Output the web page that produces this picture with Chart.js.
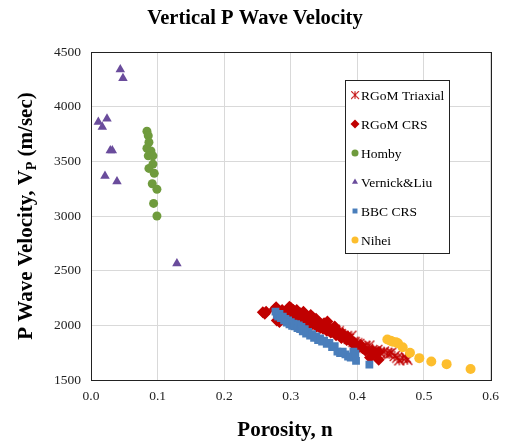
<!DOCTYPE html>
<html>
<head>
<meta charset="utf-8">
<script src="https://cdn.jsdelivr.net/npm/chart.js@4.4.0/dist/chart.umd.min.js"></script>
<style>
    html, body { margin: 0; padding: 0; background: #fff; }
</style>
</head>
<body>
<canvas id="chart" width="507" height="444"></canvas>
<script>
// ---- data (porosity n, velocity Vp in m/sec) ----
const triaxialPorosity = [0.333, 0.340, 0.346, 0.350, 0.352, 0.356, 0.360, 0.363, 0.366, 0.368, 0.372, 0.375, 0.379, 0.383, 0.387, 0.391, 0.394, 0.396, 0.400, 0.403, 0.406, 0.408, 0.412, 0.416, 0.418, 0.422, 0.428, 0.430, 0.434, 0.440, 0.445, 0.448, 0.451, 0.456, 0.460, 0.463, 0.468, 0.473, 0.475];
const triaxialVelocity = [2000, 2015, 2000, 1990, 2000, 1965, 1980, 1950, 1960, 1935, 1945, 1920, 1905, 1890, 1875, 1905, 1850, 1845, 1835, 1830, 1790, 1800, 1810, 1785, 1815, 1770, 1760, 1775, 1750, 1760, 1745, 1740, 1750, 1720, 1705, 1680, 1700, 1705, 1685];

const crsPorosity = [0.258, 0.261, 0.263, 0.276, 0.278, 0.279, 0.281, 0.283, 0.284, 0.287, 0.289, 0.291, 0.293, 0.296, 0.298, 0.300, 0.301, 0.303, 0.304, 0.306, 0.308, 0.310, 0.312, 0.314, 0.316, 0.318, 0.320, 0.322, 0.324, 0.327, 0.329, 0.331, 0.334, 0.336, 0.339, 0.342, 0.345, 0.348, 0.351, 0.354, 0.357, 0.360, 0.364, 0.368, 0.372, 0.376, 0.380, 0.384, 0.388, 0.392, 0.396, 0.402, 0.408, 0.412, 0.419, 0.423, 0.428, 0.432, 0.432,
    0.300, 0.305, 0.309, 0.315, 0.319, 0.325, 0.330, 0.333, 0.338, 0.341, 0.344, 0.350, 0.353, 0.355, 0.362, 0.366, 0.370, 0.374, 0.378, 0.382, 0.386, 0.390, 0.395, 0.399, 0.405];
const crsVelocity = [2120, 2105, 2125, 2150, 2165, 2045, 2130, 2030, 2110, 2140, 2095, 2120, 2080, 2150, 2170, 2160, 2130, 2105, 2140, 2085, 2120, 2095, 2060, 2110, 2080, 2045, 2090, 2060, 2030, 2070, 2040, 2010, 2050, 2020, 1990, 2030, 2000, 1970, 1985, 1950, 1970, 1935, 1950, 1910, 1925, 1885, 1900, 1865, 1870, 1840, 1820, 1800, 1790, 1770, 1705, 1765, 1740, 1755, 1685,
    2100, 2065, 2140, 2035, 2125, 2010, 2095, 2075, 2060, 2000, 1975, 2020, 1995, 2035, 1965, 1990, 1950, 1905, 1925, 1890, 1895, 1860, 1845, 1815, 1820];

const hornbyPorosity = [0.084, 0.086, 0.087, 0.084, 0.090, 0.086, 0.093, 0.093, 0.087, 0.095, 0.092, 0.099, 0.094, 0.099];
const hornbyVelocity = [3775, 3735, 3675, 3620, 3595, 3550, 3550, 3475, 3435, 3390, 3295, 3245, 3115, 3000];

const vernickPorosity = [0.044, 0.048, 0.011, 0.024, 0.017, 0.029, 0.032, 0.021, 0.039, 0.129];
const vernickVelocity = [4340, 4260, 3860, 3890, 3815, 3600, 3600, 3365, 3315, 2565];

const bbcPorosity = [0.277, 0.279, 0.281, 0.283, 0.285, 0.288, 0.290, 0.292, 0.294, 0.296, 0.298, 0.300, 0.302, 0.304, 0.306, 0.308, 0.310, 0.312, 0.314, 0.316, 0.318, 0.321, 0.323, 0.326, 0.329, 0.332, 0.335, 0.338, 0.341, 0.344, 0.347, 0.350, 0.354, 0.358, 0.362, 0.366, 0.370, 0.374, 0.378, 0.382, 0.386, 0.390, 0.394, 0.397, 0.398, 0.418];
const bbcVelocity = [2125, 2095, 2080, 2105, 2065, 2080, 2045, 2060, 2025, 2045, 2010, 2030, 1995, 2015, 1990, 2010, 1975, 2000, 1965, 1985, 1945, 1965, 1925, 1940, 1905, 1920, 1885, 1900, 1865, 1880, 1850, 1860, 1830, 1840, 1800, 1810, 1760, 1745, 1760, 1735, 1715, 1705, 1760, 1740, 1675, 1640];

const niheiPorosity = [0.445, 0.450, 0.453, 0.458, 0.461, 0.468, 0.479, 0.493, 0.511, 0.534, 0.570];
const niheiVelocity = [1870, 1860, 1850, 1845, 1835, 1800, 1750, 1700, 1670, 1645, 1600];

const xTicks = [0, 0.1, 0.2, 0.3, 0.4, 0.5, 0.6];
const yTicks = [1500, 2000, 2500, 3000, 3500, 4000, 4500];

const SERIF = '"Liberation Serif", "Times New Roman", serif';

function toPoints(xs, ys) {
    return xs.map((x, i) => ({ x: x, y: ys[i] }));
}

// Excel-like star marker (an x with a vertical stroke)
function makeStar(color, size) {
    const c = document.createElement('canvas');
    c.width = size; c.height = size;
    const g = c.getContext('2d');
    g.strokeStyle = color;
    g.lineWidth = 1.2;
    const m = 1, s = size - 1;
    g.beginPath();
    g.moveTo(m, m); g.lineTo(s, s);
    g.moveTo(s, m); g.lineTo(m, s);
    g.moveTo(size / 2, m); g.lineTo(size / 2, s);
    g.stroke();
    return c;
}

const starImg = makeStar('#C00000', 12);

const series = [
    { label: 'RGoM Triaxial', xs: triaxialPorosity, ys: triaxialVelocity, style: starImg, color: '#C00000', radius: 6, order: 5 },
    { label: 'RGoM CRS', xs: crsPorosity, ys: crsVelocity, style: 'rectRot', color: '#C00000', radius: 6, order: 4 },
    { label: 'Homby', xs: hornbyPorosity, ys: hornbyVelocity, style: 'circle', color: '#6F9B3D', radius: 4.5, order: 3 },
    { label: 'Vernick&Liu', xs: vernickPorosity, ys: vernickVelocity, style: 'triangle', color: '#6A4C9C', radius: 5.5, order: 2 },
    { label: 'BBC CRS', xs: bbcPorosity, ys: bbcVelocity, style: 'rect', color: '#4A7EBB', radius: 5.5, order: 1 },
    { label: 'Nihei', xs: niheiPorosity, ys: niheiVelocity, style: 'circle', color: '#FDBE2E', radius: 5, order: 0 }
];

const datasets = series.map(s => ({
    label: s.label,
    data: toPoints(s.xs, s.ys),
    pointStyle: s.style,
    pointRadius: s.radius,
    pointBackgroundColor: s.color,
    pointBorderColor: s.color,
    pointBorderWidth: 0,
    order: s.order
}));

// titles, frame and in-plot legend
const decorPlugin = {
    id: 'decor',
    afterDraw(chart) {
        const ctx = chart.ctx;
        const a = chart.chartArea;
        ctx.save();

        // frame
        ctx.strokeStyle = '#222';
        ctx.lineWidth = 1;
        ctx.strokeRect(Math.round(a.left) + 0.5, Math.round(a.top) + 0.5, Math.round(a.right - a.left), Math.round(a.bottom - a.top));

        // chart title
        ctx.fillStyle = '#000';
        ctx.textAlign = 'center';
        ctx.textBaseline = 'alphabetic';
        ctx.font = 'bold 20.5px ' + SERIF;
        ctx.fillText('Vertical P Wave Velocity', 255, 24);

        // x axis title
        ctx.font = 'bold 21px ' + SERIF;
        ctx.fillText('Porosity, n', 285, 436);

        // y axis title with subscript
        ctx.save();
        ctx.translate(32, 216);
        ctx.rotate(-Math.PI / 2);
        ctx.textAlign = 'left';
        const big = 'bold 21px ' + SERIF, small = 'bold 14px ' + SERIF;
        const p1 = 'P Wave Velocity, V', p2 = 'P', p3 = ' (m/sec)';
        ctx.font = big;
        const w1 = ctx.measureText(p1).width, w3 = ctx.measureText(p3).width;
        ctx.font = small;
        const w2 = ctx.measureText(p2).width;
        const x0 = -(w1 + w2 + w3) / 2;
        ctx.font = big;
        ctx.fillText(p1, x0, 0);
        ctx.font = small;
        ctx.fillText(p2, x0 + w1, 4);
        ctx.font = big;
        ctx.fillText(p3, x0 + w1 + w2, 0);
        ctx.restore();

        // legend box
        const lx = 345, ly = 80, lw = 104, lh = 173;
        ctx.fillStyle = '#fff';
        ctx.fillRect(lx, ly, lw, lh);
        ctx.strokeStyle = '#222';
        ctx.strokeRect(lx + 0.5, ly + 0.5, lw, lh);
        ctx.font = '13.5px ' + SERIF;
        ctx.textAlign = 'left';
        ctx.textBaseline = 'middle';
        series.forEach((s, i) => {
            const y = 95 + i * 29;
            ctx.fillStyle = s.color;
            ctx.strokeStyle = s.color;
            if (s.style === starImg) {
                ctx.drawImage(starImg, 355 - 4.5, y - 4.5, 9, 9);
            } else {
                Chart.helpers.drawPoint(ctx, {
                    pointStyle: s.style,
                    radius: s.style === 'rectRot' ? 4.5 : 3.5,
                    rotation: 0,
                    borderWidth: 0
                }, 355, y);
            }
            ctx.fillStyle = '#000';
            ctx.fillText(s.label, 361, y + 1);
        });
        ctx.restore();
    }
};

new Chart(document.getElementById('chart'), {
    type: 'scatter',
    data: { datasets: datasets },
    plugins: [decorPlugin],
    options: {
        responsive: false,
        animation: false,
        devicePixelRatio: 1,
        layout: { padding: { top: 52, right: 16, left: 0, bottom: 0 } },
        plugins: {
            legend: { display: false },
            tooltip: { enabled: false }
        },
        scales: {
            x: {
                type: 'linear',
                min: 0,
                max: 0.6,
                afterFit: (scale) => { scale.height = 64; },
                afterBuildTicks: (scale) => { scale.ticks = xTicks.map(v => ({ value: v })); },
                grid: { color: '#D9D9D9', drawTicks: false },
                border: { color: '#222' },
                ticks: {
                    padding: 8,
                    color: '#222',
                    font: { family: SERIF, size: 13.5 },
                    callback: (v) => Number(v).toFixed(1)
                }
            },
            y: {
                type: 'linear',
                min: 1500,
                max: 4500,
                afterFit: (scale) => { scale.width = 91; },
                afterBuildTicks: (scale) => { scale.ticks = yTicks.map(v => ({ value: v })); },
                grid: { color: '#D9D9D9', drawTicks: false },
                border: { color: '#222' },
                ticks: {
                    padding: 10,
                    color: '#222',
                    font: { family: SERIF, size: 13.5 },
                    callback: (v) => String(v)
                }
            }
        }
    }
});
</script>
</body>
</html>
